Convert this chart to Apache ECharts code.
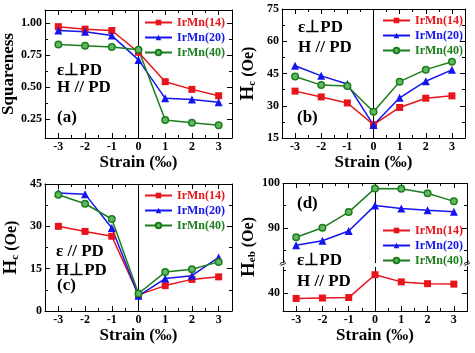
<!DOCTYPE html>
<html>
<head>
<meta charset="utf-8">
<script src="https://cdn.jsdelivr.net/npm/echarts@6/dist/echarts.min.js"></script>
<style>
html, body { margin: 0; padding: 0; background: #fff; }
#chart { width: 475px; height: 353px; }
</style>
</head>
<body>
<div id="chart"></div>
<script>
const strain = [-3, -2, -1, 0, 1, 2, 3]
const names = ['IrMn(14)', 'IrMn(20)', 'IrMn(40)']

// (a) squareness, eps perp PD
const sq14 = [0.97, 0.95, 0.94, 0.77, 0.54, 0.48, 0.43]
const sq20 = [0.94, 0.93, 0.90, 0.71, 0.41, 0.40, 0.38]
const sq40 = [0.83, 0.82, 0.81, 0.79, 0.24, 0.22, 0.20]
// (b) Hc, eps perp PD
const hcB14 = [36.8, 34.1, 31.3, 21.2, 29.2, 33.5, 34.6]
const hcB20 = [48.6, 43.9, 40.1, 21.0, 33.7, 41.4, 46.7]
const hcB40 = [43.6, 39.6, 39.2, 27.2, 41.2, 46.8, 50.5]
// (c) Hc, eps // PD
const hcC14 = [30.0, 28.2, 26.5, 5.7, 9.0, 11.2, 12.1]
const hcC20 = [41.8, 41.4, 29.4, 5.4, 11.5, 12.5, 19.0]
const hcC40 = [41.2, 38.0, 32.6, 6.2, 13.8, 14.8, 17.4]
// (d) Heb, eps perp PD
const heb14 = [38.8, 38.9, 39.0, 44.1, 42.5, 42.1, 42.0]
const heb20 = [86.1, 87.1, 89.3, 95.0, 94.3, 93.9, 93.6]
const heb40 = [87.9, 90.0, 93.5, 98.8, 98.7, 97.7, 95.9]

const xMajor = [-3, -2, -1, 0, 1, 2, 3]
const xMinor = [-2.5, -1.5, -0.5, 0.5, 1.5, 2.5]

const FONT = 'Liberation Serif'
const colors = ['#e8141b', '#1414f0', '#1b7d1b']

const grids = [
  { left: 45, top: 10, width: 187, height: 128 },
  { left: 282, top: 9, width: 183, height: 129 },
  { left: 45, top: 184, width: 187, height: 127 },
  { left: 283, top: 183, width: 184, height: 128 }
]

const yCfg = [
  { min: 0.1, max: 1.1, major: [0.25, 0.5, 0.75, 1.0], minor: [0.375, 0.625, 0.875], fmt: v => v.toFixed(2),
    name: 'Squareness', gap: 28 },
  { min: 15, max: 75, major: [15, 30, 45, 60, 75], minor: [22.5, 37.5, 52.5, 67.5], fmt: v => v,
    name: '{h|H}{s|c}{o| (Oe)}', gap: 24 },
  { min: 0, max: 45, major: [0, 15, 30, 45], minor: [7.5, 22.5, 37.5], fmt: v => v,
    name: '{h|H}{s|c}{o| (Oe)}', gap: 24 },
  { min: 36, max: 100, major: [40, 90, 100], minor: [45, 85, 95], fmt: v => v,
    name: '{h|H}{s|eb}{o| (Oe)}', gap: 24, breaks: [{ start: 46, end: 82, gap: '2%' }] }
]

const black = { color: '#000', width: 1 }

function xAxes(gi) {
  const base = {
    type: 'value', gridIndex: gi, min: -3.5, max: 3.5, interval: 0.5,
    splitLine: { show: false }, axisLabel: { show: false },
    axisLine: { show: false, onZero: false }, axisTick: { show: false }
  }
  const line = { show: true, onZero: false, lineStyle: black }
  const tk = (vals, len) => ({ show: true, inside: true, length: len, customValues: vals, lineStyle: black })
  return [
    Object.assign({}, base, {
      position: 'bottom', axisLine: line, axisTick: tk(xMajor, 5),
      axisLabel: { show: true, customValues: xMajor, margin: 3, color: '#000', fontFamily: FONT, fontWeight: 'bold', fontSize: 12 },
      name: 'Strain (‰)', nameLocation: 'middle', nameGap: 16,
      nameTextStyle: { color: '#000', fontFamily: FONT, fontWeight: 'bold', fontSize: 17 }
    }),
    Object.assign({}, base, { position: 'bottom', axisTick: tk(xMinor, 3) }),
    Object.assign({}, base, { position: 'top', axisLine: line, axisTick: tk(xMajor, 5) }),
    Object.assign({}, base, { position: 'top', axisTick: tk(xMinor, 3) })
  ]
}

function yAxes(gi) {
  const c = yCfg[gi]
  const base = {
    type: 'value', gridIndex: gi, min: c.min, max: c.max,
    splitLine: { show: false }, axisLabel: { show: false },
    axisLine: { show: false, onZero: false }, axisTick: { show: false }
  }
  if (c.breaks) {
    base.breaks = c.breaks
    base.breakArea = { show: true, itemStyle: { color: '#fff', borderWidth: 0, opacity: 1 }, zigzagAmplitude: 0, expandOnClick: false }
  }
  const line = { show: true, onZero: false, lineStyle: black }
  const tk = (vals, len) => ({ show: true, inside: true, length: len, customValues: vals, lineStyle: black })
  const rich = {
    h: { fontSize: 19, fontFamily: FONT, fontWeight: 'bold', color: '#000' },
    s: { fontSize: 11, fontFamily: FONT, fontWeight: 'bold', color: '#000', verticalAlign: 'bottom', lineHeight: 11 },
    o: { fontSize: 16, fontFamily: FONT, fontWeight: 'bold', color: '#000' }
  }
  return [
    Object.assign({}, base, {
      position: 'left', axisLine: line, axisTick: tk(c.major, 5),
      axisLabel: { show: true, customValues: c.major, formatter: c.fmt, margin: 3, color: '#000', fontFamily: FONT, fontWeight: 'bold', fontSize: 12 },
      name: c.name, nameLocation: 'middle', nameGap: c.gap,
      nameTextStyle: { color: '#000', fontFamily: FONT, fontWeight: 'bold', fontSize: 17, rich: rich }
    }),
    Object.assign({}, base, { position: 'left', axisTick: tk(c.minor, 3) }),
    Object.assign({}, base, { position: 'right', axisLine: line, axisTick: tk(c.major, 5) }),
    Object.assign({}, base, { position: 'right', axisTick: tk(c.minor, 3) })
  ]
}

const panelData = [
  [sq14, sq20, sq40],
  [hcB14, hcB20, hcB40],
  [hcC14, hcC20, hcC40],
  [heb14, heb20, heb40]
]

const symbols = [
  { symbol: 'rect', symbolSize: 7, fill: colors[0] },
  { symbol: 'triangle', symbolSize: 8, fill: colors[1] },
  { symbol: 'circle', symbolSize: 6.5, fill: '#62b862' }
]

const series = []
panelData.forEach((rows, gi) => {
  rows.forEach((vals, si) => {
    const s = {
      name: names[si], type: 'line', xAxisIndex: gi * 4, yAxisIndex: gi * 4,
      data: strain.map((x, i) => [x, vals[i]]),
      symbol: symbols[si].symbol, symbolSize: symbols[si].symbolSize,
      itemStyle: { color: symbols[si].fill, borderColor: colors[si], borderWidth: si === 2 ? 1.5 : 0 },
      lineStyle: { color: colors[si], width: 1.5 },
      z: 3
    }
    if (si === 0) {
      s.markLine = {
        silent: true, symbol: ['none', 'none'], label: { show: false }, z: 1,
        lineStyle: { color: '#000', width: 1, type: 'solid' },
        data: [{ xAxis: 0 }]
      }
    }
    series.push(s)
  })
})

const legendPos = [
  { left: 144, top: 16 },
  { left: 382, top: 14 },
  { left: 144, top: 189 },
  { left: 382, top: 224 }
]

const legendText = { fontFamily: FONT, fontWeight: 'bold', fontSize: 12, lineHeight: 13 }
const legends = legendPos.map(p => ({
  left: p.left, top: p.top, orient: 'vertical', padding: 0, zlevel: 1,
  itemWidth: 27, itemHeight: 7, itemGap: 2,
  textStyle: legendText,
  data: names.map((n, i) => ({ name: n, textStyle: Object.assign({ color: colors[i] }, legendText) }))
}))

const notes = [
  ['ε⊥PD', 57, 71], ['H // PD', 57, 88], ['(a)', 57, 118],
  ['ε⊥PD', 298, 28], ['H // PD', 298, 48], ['(b)', 297, 118],
  ['ε // PD', 56, 252], ['H⊥PD', 56, 271], ['(c)', 57, 286],
  ['(d)', 297, 204], ['ε⊥PD', 297, 261], ['H // PD', 297, 282]
]

const graphic = notes.map(n => ({
  type: 'text', x: n[1], y: n[2], z: 100, zlevel: 1,
  style: { text: n[0], font: 'bold 17px "Liberation Serif"', fill: '#000', textVerticalAlign: 'middle' }
}))
// small break marks on both sides of panel (d)
;[283, 467].forEach(x => {
  graphic.push({
    type: 'text', x: x, y: 264, z: 100, zlevel: 1, rotation: Math.PI / 6,
    style: { text: '≈', font: '10px "DejaVu Sans"', fill: '#000', textAlign: 'center', textVerticalAlign: 'middle' }
  })
})

var myChart = echarts.init(document.getElementById('chart'))
var option = {
  animation: false,
  backgroundColor: '#fff',
  grid: grids.map(g => Object.assign({ outerBoundsMode: 'none', containLabel: false }, g)),
  xAxis: [0, 1, 2, 3].flatMap(xAxes),
  yAxis: [0, 1, 2, 3].flatMap(yAxes),
  legend: legends,
  graphic: graphic,
  series: series
}
option && myChart.setOption(option)
</script>
</body>
</html>
